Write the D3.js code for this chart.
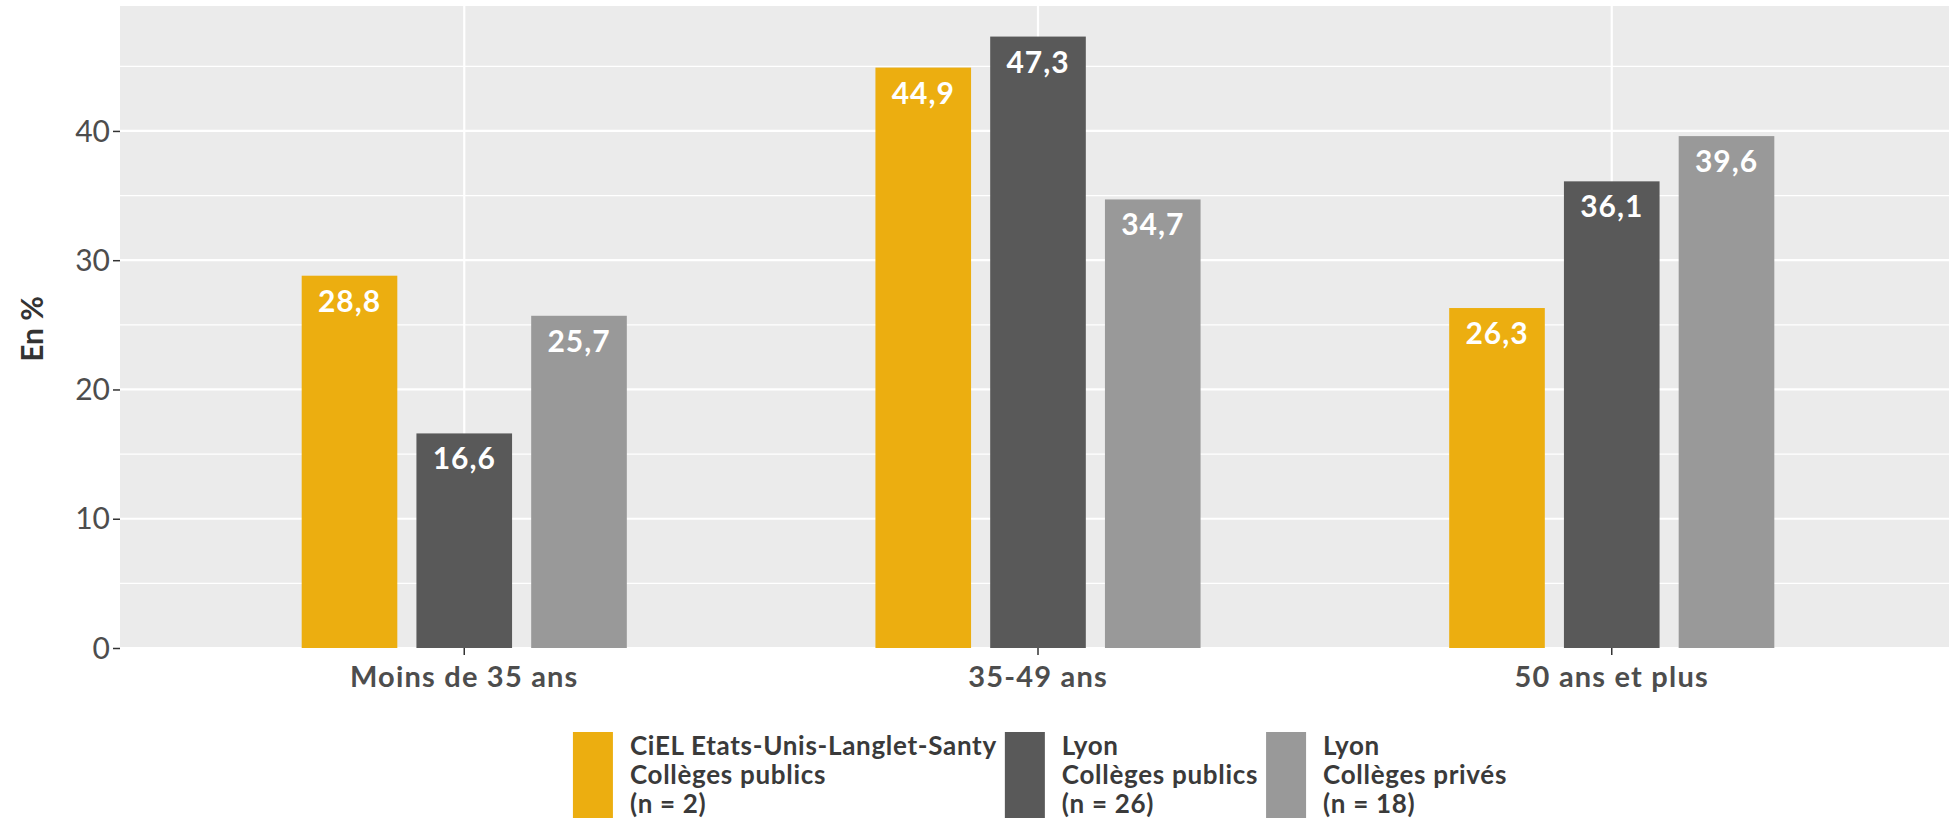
<!DOCTYPE html>
<html><head><meta charset="utf-8">
<script src="https://cdn.jsdelivr.net/npm/d3@7"></script>
<style>
html,body{margin:0;padding:0;background:#fff;overflow:hidden;}
svg{display:block;font-family:Lato, "Open Sans", sans-serif;}
</style></head>
<body>
<svg id="chart" width="1949" height="824"></svg>
<script>
const categories = ["Moins de 35 ans", "35-49 ans", "50 ans et plus"];
const seriesNames = [
  ["CiEL Etats-Unis-Langlet-Santy", "Collèges publics", "(n = 2)"],
  ["Lyon", "Collèges publics", "(n = 26)"],
  ["Lyon", "Collèges privés", "(n = 18)"]
];
const seriesKeys = ["ciel", "lyonPublic", "lyonPrive"];
const cielValues = [28.8, 44.9, 26.3];
const lyonPublicValues = [16.6, 47.3, 36.1];
const lyonPriveValues = [25.7, 34.7, 39.6];
const yTicks = [0, 10, 20, 30, 40];
const yMinor = [5, 15, 25, 35, 45];
const colors = ["#ECAE10", "#595959", "#999999"];

(function() {
const values = [cielValues, lyonPublicValues, lyonPriveValues];
const data = categories.map((c, i) => ({
  cat: c,
  vals: seriesKeys.map((k, j) => ({key: k, idx: j, value: values[j][i]}))
}));

const svg = d3.select("#chart");
const pLeft = 120, pRight = 1956, pTop = 6, pBottom = 648;
const yMax = d3.max(values.flat()) * 1.05;

const x = d3.scaleBand().domain(categories).range([pLeft, pRight]).paddingInner(0.4).paddingOuter(0.3);
const xs = d3.scaleBand().domain(seriesKeys).range([0, x.bandwidth()]).paddingInner(1/6).paddingOuter(1/12);
const y = d3.scaleLinear().domain([0, yMax]).range([pBottom, pTop]);

svg.append("rect").attr("x", pLeft).attr("y", pTop).attr("width", pRight - pLeft).attr("height", pBottom - pTop).attr("fill", "#EBEBEB");
svg.append("g").selectAll("line").data(yMinor).join("line")
  .attr("x1", pLeft).attr("x2", pRight).attr("y1", d => y(d)).attr("y2", d => y(d))
  .attr("stroke", "#fff").attr("stroke-width", 1.3);
svg.append("g").selectAll("line").data(yTicks).join("line")
  .attr("x1", pLeft).attr("x2", pRight).attr("y1", d => y(d)).attr("y2", d => y(d))
  .attr("stroke", "#fff").attr("stroke-width", 2.2);
svg.append("g").selectAll("line").data(categories).join("line")
  .attr("x1", d => x(d) + x.bandwidth() / 2).attr("x2", d => x(d) + x.bandwidth() / 2)
  .attr("y1", pTop).attr("y2", pBottom)
  .attr("stroke", "#fff").attr("stroke-width", 2.2);

const g = svg.append("g").selectAll("g").data(data).join("g")
  .attr("transform", d => `translate(${x(d.cat)},0)`);
g.selectAll("rect").data(d => d.vals).join("rect")
  .attr("x", d => xs(d.key)).attr("width", xs.bandwidth())
  .attr("y", d => y(d.value)).attr("height", d => y(0) - y(d.value))
  .attr("fill", d => colors[d.idx]);
g.selectAll("text").data(d => d.vals).join("text")
  .attr("x", d => xs(d.key) + xs.bandwidth() / 2)
  .attr("y", d => y(d.value) + 36)
  .attr("text-anchor", "middle").attr("fill", "#fff")
  .attr("font-weight", "bold").attr("font-size", 30).attr("letter-spacing", 1)
  .text(d => d3.format(".1f")(d.value).replace(".", ","));

const yAxis = d3.axisLeft(y).tickValues(yTicks).tickSize(7).tickPadding(3);
const ya = svg.append("g").attr("transform", `translate(${pLeft},0)`).call(yAxis);
ya.select(".domain").remove();
ya.selectAll(".tick line").attr("stroke", "#333").attr("stroke-width", 1.5);
ya.selectAll(".tick text").attr("font-size", 30).attr("fill", "#4D4D4D").attr("font-family", "Lato, sans-serif").attr("dy", "0.34em");

const xAxis = d3.axisBottom(x).tickSize(7).tickPadding(6);
const xa = svg.append("g").attr("transform", `translate(0,${pBottom})`).call(xAxis);
xa.select(".domain").remove();
xa.selectAll(".tick line").attr("stroke", "#333").attr("stroke-width", 1.5);
xa.selectAll(".tick text").attr("font-size", 29).attr("letter-spacing", 1.2).attr("font-weight", "bold").attr("fill", "#4D4D4D").attr("font-family", "Lato, sans-serif").attr("dy", "0.88em");

svg.append("text").attr("transform", `translate(43,${(pTop + pBottom) / 2 + 2}) rotate(-90)`)
  .attr("text-anchor", "middle").attr("font-size", 30).attr("font-weight", "bold").attr("fill", "#333")
  .text("En %");

const leg = svg.append("g");
const items = leg.selectAll("g").data(seriesNames).join("g");
items.append("rect").attr("x", 0).attr("y", 732).attr("width", 40).attr("height", 86)
  .attr("fill", (d, i) => colors[i]);
const txt = items.append("text").attr("x", 57).attr("font-size", 26).attr("letter-spacing", 0.7).attr("font-weight", "bold").attr("fill", "#3a3a3a");
txt.selectAll("tspan").data(d => d).join("tspan")
  .attr("x", 57).attr("y", (d, i) => 755 + i * 29).text(d => d);
let cx = 0;
const offsets = [];
items.each(function() {
  offsets.push(cx);
  const w = d3.select(this).select("text").node().getBBox().width;
  cx += 57 + w + 8;
});
items.attr("transform", (d, i) => `translate(${offsets[i]},0)`);
const totalW = cx - 8;
leg.attr("transform", `translate(${1040 - totalW / 2},0)`);
})();
</script>
</body></html>
